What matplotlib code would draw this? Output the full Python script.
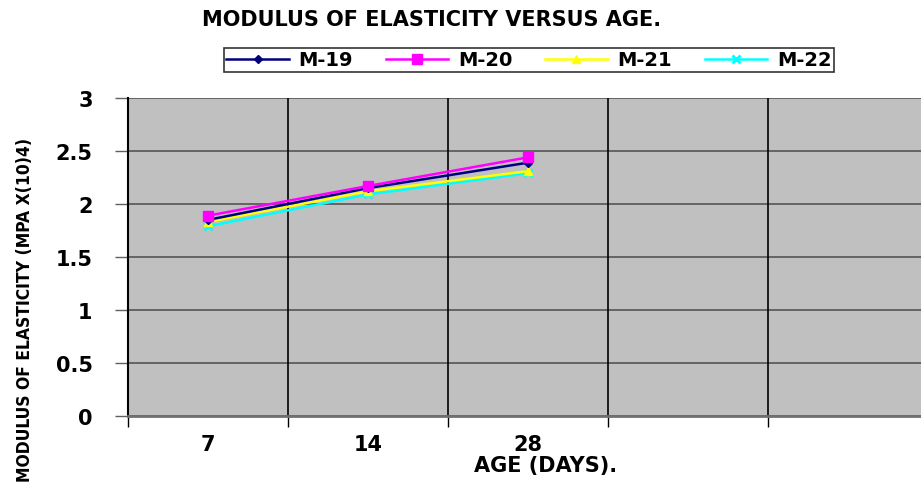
import numpy as np
import matplotlib.pyplot as plt
from matplotlib.ticker import FixedLocator, NullFormatter

# data
ages = ['7', '14', '28', '', '']
m19 = [1.85, 2.15, 2.39]
m20 = [1.89, 2.17, 2.44]
m21 = [1.83, 2.12, 2.31]
m22 = [1.79, 2.09, 2.29]

W, H = 921, 485
fig = plt.figure(figsize=(W / 100, H / 100), dpi=100)
# plot area runs past the right edge of the picture, as in the reference
ax = fig.add_axes([128 / W, (H - 417) / H, 800 / W, 318 / H])
ax.set_facecolor('#c0c0c0')

x = np.arange(len(m19))
ax.plot(x, m19, color='#000080', marker='D', ms=4, lw=1.8, label='M-19', zorder=4)
ax.plot(x, m20, color='#ff00ff', marker='s', ms=7, lw=1.8, label='M-20', zorder=5)
ax.plot(x, m21, color='#ffff00', marker='^', ms=6, lw=1.8, label='M-21', zorder=3)
ax.plot(x, m22, color='#00ffff', marker='x', ms=6, mew=2, lw=1.8, label='M-22', zorder=2)

ax.set_xlim(-0.5, len(ages) - 0.5)
ax.set_ylim(0, 3)
ax.set_yticks(np.arange(0, 3.01, 0.5))
ax.set_yticklabels(['0', '0.5', '1', '1.5', '2', '2.5', '3'],
                   fontsize=15, fontweight='bold', family='DejaVu Sans')
ax.set_xticks(np.arange(len(ages)))
ax.set_xticklabels(ages, fontsize=15, fontweight='bold', family='DejaVu Sans')
ax.xaxis.set_minor_locator(FixedLocator(np.arange(-0.5, len(ages), 1.0)))
ax.xaxis.set_minor_formatter(NullFormatter())
ax.tick_params(axis='x', which='major', length=0, pad=13)
ax.tick_params(axis='x', which='minor', length=8, color='black', width=1)
ax.tick_params(axis='y', length=9.5, width=1, color='#606060', pad=16)

ax.grid(axis='y', color='#555555', lw=1.2)
for b in np.arange(0.5, len(ages) - 0.5, 1.0):
    ax.axvline(b, color='black', lw=1.2, zorder=1)
ax.set_axisbelow(True)

for s in ['top', 'right']:
    ax.spines[s].set_visible(False)
ax.spines['left'].set_color('black')
ax.spines['left'].set_linewidth(1.5)
ax.spines['bottom'].set_color('#707070')
ax.spines['bottom'].set_linewidth(2)

fig.text(432 / W, 1 - 20 / H, 'MODULUS OF ELASTICITY VERSUS AGE.', ha='center', va='center',
         fontsize=15, fontweight='bold')
fig.text(546 / W, 1 - 466 / H, 'AGE (DAYS).', ha='center', va='center',
         fontsize=15, fontweight='bold')
fig.text(25 / W, 1 - 310 / H, 'MODULUS OF ELASTICITY (MPA X(10)4)', rotation=90,
         ha='center', va='center', fontsize=12.5, fontweight='bold',
         fontstretch='condensed', family='DejaVu Sans')

leg = fig.legend(loc='center', bbox_to_anchor=(529 / W, 1 - 61 / H), ncol=4,
                 frameon=True, fancybox=False, edgecolor='black', handlelength=3.2,
                 columnspacing=1.7, handletextpad=0.5, borderpad=0.15,
                 prop={'weight': 'bold', 'size': 14})
leg.get_frame().set_linewidth(1.2)

fig.savefig('out.png', dpi=100)
